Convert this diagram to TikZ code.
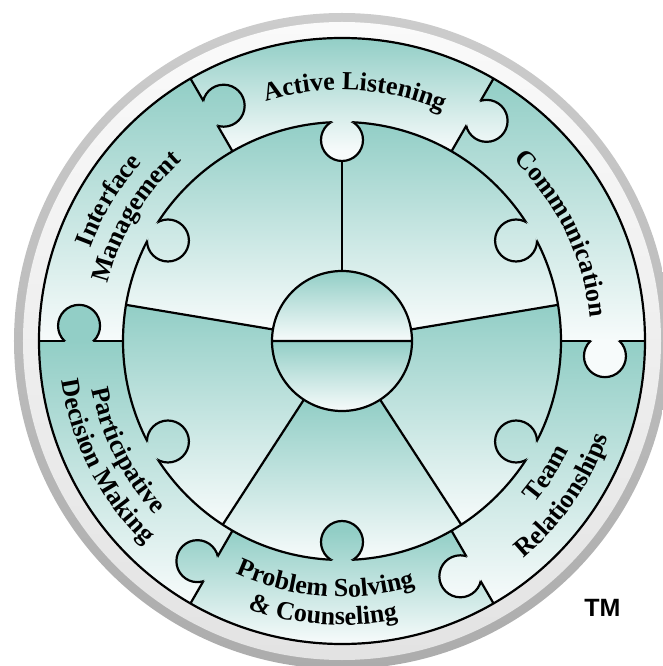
\documentclass[tikz,border=0pt]{standalone}
\usepackage{fontspec}
\setmainfont{Liberation Serif}
\newfontfamily\tmfont{Liberation Sans}
\usetikzlibrary{decorations.text}
\definecolor{wheelteal}{RGB}{146,206,198}
\definecolor{wheelpale}{RGB}{247,251,251}
\newcommand{\wheelfont}{\fontsize{26}{28}\selectfont\bfseries}

\begin{document}
\begin{tikzpicture}[x=1pt,y=1pt,line width=2.2pt,
  fade/.style={top color=wheelteal,bottom color=wheelpale},
  arclabel/.style={decorate,decoration={text along path,text align=center,text={|\wheelfont|#1}}}]
  \useasboundingbox (-342,-325) rectangle (320,341);
  % rim
  \shade[top color=gray!40,bottom color=gray!65] (0,0) circle[radius=328];
  \shade[top color=gray!4,bottom color=gray!22] (0,0) circle[radius=319];
  % ring pieces: from, to, top and bottom of the fade
  \foreach \a/\b/\t/\u in {60/120/303/190, 0/60/262/0, 120/180/262/0,
                           180/240/0/-262, 240/300/-190/-303, 300/360/0/-262}{
    \begin{scope}
      \clip (\a:219) arc[start angle=\a,end angle=\b,radius=219] -- (\b:303)
            arc[start angle=\b,end angle=\a,radius=303] -- cycle;
      \shade[fade] (-310,\u) rectangle (310,\t);
    \end{scope}
  }
  % inner sectors
  \foreach \a/\b/\t/\u in {90/170.5/219/11, 9.5/90/219/11, 170.5/237/36/-184,
                           237/303/-59/-219, 303/369.5/36/-184}{
    \begin{scope}
      \clip (\a:70) -- (\a:219) arc[start angle=\a,end angle=\b,radius=219]
            -- (\b:70) arc[start angle=\b,end angle=\a,radius=70] -- cycle;
      \shade[fade] (-230,\u) rectangle (230,\t);
    \end{scope}
  }
  % hub
  \foreach \a/\t/\u in {0/70/0, 180/0/-70}{
    \begin{scope}
      \clip (\a:70) arc[start angle=\a,end angle=\a+180,radius=70] -- cycle;
      \shade[fade] (-75,\u) rectangle (75,\t);
    \end{scope}
  }
  \draw (0,0) circle[radius=303] (0,0) circle[radius=219] (0,0) circle[radius=70]
        (180:70) -- (0:70);
  \foreach \a in {0,60,...,300} \draw (\a:219) -- (\a:303);
  \foreach \a in {9.5,90,170.5,237,303} \draw (\a:70) -- (\a:219);
  % knobs between ring pieces
  \foreach \p/\t/\u in {0/262/0, 60/303/190, 120/262/0, 180/0/-262, 240/-190/-303, 300/0/-262}{
    \begin{scope}
      \clip (\p-3.3:263.4) circle[radius=21];
      \fill[wheelteal] (-310,\t) rectangle (310,340);
      \fill[wheelpale] (-310,-340) rectangle (310,\u);
      \shade[fade] (-310,\u) rectangle (310,\t);
    \end{scope}
    \begin{scope}
      \clip (\p-60:219) arc[start angle=\p-60,end angle=\p,radius=219] -- (\p:303)
            arc[start angle=\p,end angle=\p-60,radius=303] -- cycle;
      \draw (\p-3.3:263.4) circle[radius=21];
    \end{scope}
  }
  % knobs into the inner disk
  \foreach \q/\t/\u in {90/303/190, 30/262/0, 150/262/0, 210/0/-262, 270/-190/-303, 330/0/-262}{
    \begin{scope}
      \clip (\q:201) circle[radius=21];
      \fill[wheelteal] (-310,\t) rectangle (310,340);
      \fill[wheelpale] (-310,-340) rectangle (310,\u);
      \shade[fade] (-310,\u) rectangle (310,\t);
    \end{scope}
    \begin{scope}
      \clip (0,0) circle[radius=219];
      \draw (\q:201) circle[radius=21];
    \end{scope}
  }
  % labels
  \path[arclabel={Active Listening}] (117:251) arc[start angle=117,end angle=57,radius=251];
  \path[arclabel={Communication}] (56:249) arc[start angle=56,end angle=-4,radius=249];
  \path[arclabel={Interface}] (179:268) arc[start angle=179,end angle=119,radius=268];
  \path[arclabel={Management}] (179:241) arc[start angle=179,end angle=119,radius=241];
  \path[arclabel={Participative}] (177:255) arc[start angle=177,end angle=237,radius=255];
  \path[arclabel={Decision Making}] (177:283) arc[start angle=177,end angle=237,radius=283];
  \path[arclabel={Problem Solving}] (236:256) arc[start angle=236,end angle=296,radius=256];
  \path[arclabel={{\&} Counseling}] (236:284) arc[start angle=236,end angle=296,radius=284];
  \path[arclabel={Team}] (-63:252) arc[start angle=-63,end angle=-3,radius=252];
  \path[arclabel={Relationships}] (-65:283) arc[start angle=-65,end angle=-5,radius=283];
  \node[font=\tmfont\bfseries\fontsize{25}{25}\selectfont,inner sep=0pt] (tm) at (260.5,-266.5) {TM};
\end{tikzpicture}
\end{document}
